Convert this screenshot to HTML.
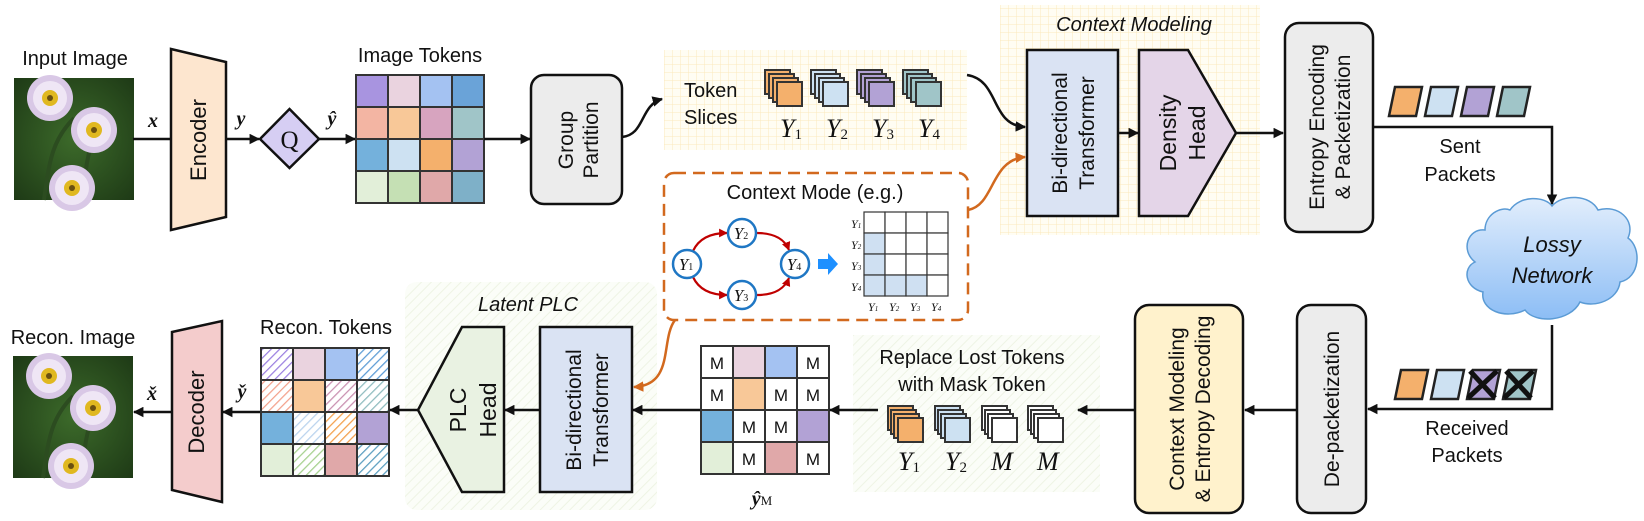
<!DOCTYPE html>
<html><head><meta charset="utf-8"><style>
html,body{margin:0;padding:0;background:#fff}
svg{display:block}
text{font-family:"Liberation Sans",sans-serif;fill:#111}
.s{font-family:"Liberation Serif",serif;font-style:italic}
</style></head><body>
<svg width="1644" height="521" viewBox="0 0 1644 521" xmlns="http://www.w3.org/2000/svg">
<defs>
<marker id="ah" viewBox="0 0 10 10" refX="9" refY="5" markerWidth="4.2" markerHeight="4.2" orient="auto"><path d="M0,0 L10,5 L0,10 z" fill="#111"/></marker>
<marker id="ao" viewBox="0 0 10 10" refX="9" refY="5" markerWidth="4.2" markerHeight="4.2" orient="auto"><path d="M0,0 L10,5 L0,10 z" fill="#d2691e"/></marker>
<marker id="ar" viewBox="0 0 10 10" refX="9" refY="5" markerWidth="4" markerHeight="4" orient="auto"><path d="M0,0 L10,5 L0,10 z" fill="#c00000"/></marker>
<pattern id="yg" width="8" height="8" patternUnits="userSpaceOnUse"><rect width="8" height="8" fill="#fffdf3"/><path d="M0,0H8M0,0V8" stroke="#fbe9bd" stroke-width="1"/></pattern>
<pattern id="gh" width="7" height="7" patternUnits="userSpaceOnUse" patternTransform="rotate(45)"><rect width="7" height="7" fill="#fbfdf8"/><line x1="0" y1="0" x2="0" y2="7" stroke="#eef4e4" stroke-width="2"/></pattern>
<pattern id="h1" width="6" height="6" patternUnits="userSpaceOnUse" patternTransform="rotate(45)"><rect width="6" height="6" fill="#fff"/><line x1="0" y1="0" x2="0" y2="6" stroke="#9a7fe0" stroke-width="2.5"/></pattern>
<pattern id="h2" width="6" height="6" patternUnits="userSpaceOnUse" patternTransform="rotate(45)"><rect width="6" height="6" fill="#fff"/><line x1="0" y1="0" x2="0" y2="6" stroke="#5b9bd5" stroke-width="2.5"/></pattern>
<pattern id="h3" width="6" height="6" patternUnits="userSpaceOnUse" patternTransform="rotate(45)"><rect width="6" height="6" fill="#fff"/><line x1="0" y1="0" x2="0" y2="6" stroke="#f3a08a" stroke-width="2.5"/></pattern>
<pattern id="h4" width="6" height="6" patternUnits="userSpaceOnUse" patternTransform="rotate(45)"><rect width="6" height="6" fill="#fff"/><line x1="0" y1="0" x2="0" y2="6" stroke="#c990b0" stroke-width="2.5"/></pattern>
<pattern id="h5" width="6" height="6" patternUnits="userSpaceOnUse" patternTransform="rotate(45)"><rect width="6" height="6" fill="#fff"/><line x1="0" y1="0" x2="0" y2="6" stroke="#8fbcbf" stroke-width="2.5"/></pattern>
<pattern id="h6" width="6" height="6" patternUnits="userSpaceOnUse" patternTransform="rotate(45)"><rect width="6" height="6" fill="#fff"/><line x1="0" y1="0" x2="0" y2="6" stroke="#b9d3ee" stroke-width="2.5"/></pattern>
<pattern id="h7" width="6" height="6" patternUnits="userSpaceOnUse" patternTransform="rotate(45)"><rect width="6" height="6" fill="#fff"/><line x1="0" y1="0" x2="0" y2="6" stroke="#f4a04c" stroke-width="2.5"/></pattern>
<pattern id="h8" width="6" height="6" patternUnits="userSpaceOnUse" patternTransform="rotate(45)"><rect width="6" height="6" fill="#fff"/><line x1="0" y1="0" x2="0" y2="6" stroke="#a6d18e" stroke-width="2.5"/></pattern>
<pattern id="h9" width="6" height="6" patternUnits="userSpaceOnUse" patternTransform="rotate(45)"><rect width="6" height="6" fill="#fff"/><line x1="0" y1="0" x2="0" y2="6" stroke="#5a9ec0" stroke-width="2.5"/></pattern>
<linearGradient id="cl" x1="0" y1="0" x2="0" y2="1"><stop offset="0" stop-color="#e2eefc"/><stop offset="1" stop-color="#8cbdf5"/></linearGradient>
<radialGradient id="bg" cx="0.5" cy="0.5" r="0.7"><stop offset="0" stop-color="#3c6a2a"/><stop offset="1" stop-color="#1e3a16"/></radialGradient>
<g id="fl">
<circle r="23" fill="#d9c8e6"/><circle r="17" fill="#efe6f5"/><circle r="8" fill="#e0b820"/><circle r="3" fill="#6a5010"/>
</g>
<g id="photo">
<rect width="120" height="122" fill="url(#bg)"/>
<path d="M30,122 C35,80 40,60 60,40 M70,122 C70,90 75,75 80,55" stroke="#2c4c20" stroke-width="4" fill="none"/>
<use href="#fl" x="36" y="20"/>
<use href="#fl" x="80" y="52"/>
<use href="#fl" x="58" y="110"/>
</g>
</defs>

<!-- backgrounds -->
<rect x="664" y="50" width="303" height="100" fill="url(#yg)"/>
<rect x="1000" y="5" width="260" height="230" fill="url(#yg)"/>
<rect x="405" y="282" width="252" height="228" rx="12" fill="url(#gh)"/>
<rect x="853" y="335" width="247" height="157" fill="url(#gh)"/>

<!-- top row -->
<text x="75" y="65" font-size="20" text-anchor="middle">Input Image</text>
<use href="#photo" x="14" y="78"/>
<line x1="133" y1="139" x2="171" y2="139" stroke="#111" stroke-width="2.5"/>
<text x="153" y="127" font-size="20" class="s" font-weight="bold" text-anchor="middle">x</text>
<polygon points="171,49 226,62 226,217 171,230" fill="#fde6cf" stroke="#111" stroke-width="2.5"/>
<text transform="translate(206,140) rotate(-90)" font-size="22" text-anchor="middle">Encoder</text>
<line x1="226" y1="139" x2="259" y2="139" stroke="#111" stroke-width="2.5" marker-end="url(#ah)"/>
<text x="241" y="125" font-size="20" class="s" font-weight="bold" text-anchor="middle">y</text>
<polygon points="289.5,109 319,139 289.5,168 260,139" fill="#d6cef3" stroke="#111" stroke-width="2.5"/>
<text x="289.5" y="148" font-size="25" text-anchor="middle" style="font-family:'Liberation Serif',serif">Q</text>
<line x1="319" y1="139" x2="355" y2="139" stroke="#111" stroke-width="2.5" marker-end="url(#ah)"/>
<text x="332" y="125" font-size="20" class="s" font-weight="bold" text-anchor="middle">ŷ</text>
<text x="420" y="62" font-size="20" text-anchor="middle">Image Tokens</text>
<g stroke="#333" stroke-width="2">
<rect x="356" y="75" width="32" height="32" fill="#a894e0"/><rect x="388" y="75" width="32" height="32" fill="#ead3df"/><rect x="420" y="75" width="32" height="32" fill="#a4c2f2"/><rect x="452" y="75" width="32" height="32" fill="#6aa3d8"/>
<rect x="356" y="107" width="32" height="32" fill="#f3b5a3"/><rect x="388" y="107" width="32" height="32" fill="#f8c898"/><rect x="420" y="107" width="32" height="32" fill="#d7a4bf"/><rect x="452" y="107" width="32" height="32" fill="#a0c5c8"/>
<rect x="356" y="139" width="32" height="32" fill="#74b1dc"/><rect x="388" y="139" width="32" height="32" fill="#cde1f2"/><rect x="420" y="139" width="32" height="32" fill="#f4b06c"/><rect x="452" y="139" width="32" height="32" fill="#b2a2d5"/>
<rect x="356" y="171" width="32" height="32" fill="#e2efd9"/><rect x="388" y="171" width="32" height="32" fill="#c5e0b4"/><rect x="420" y="171" width="32" height="32" fill="#e0a8a9"/><rect x="452" y="171" width="32" height="32" fill="#7eb0c8"/>
</g>
<line x1="484" y1="139" x2="530" y2="139" stroke="#111" stroke-width="2.5" marker-end="url(#ah)"/>
<rect x="531" y="75" width="91" height="129" rx="13" fill="#ececec" stroke="#111" stroke-width="2.5"/>
<text transform="translate(577,140) rotate(-90)" font-size="21" text-anchor="middle"><tspan x="0" dy="-4">Group</tspan><tspan x="0" dy="25">Partition</tspan></text>
<path d="M622,137 C645,135 640,105 662,99" fill="none" stroke="#111" stroke-width="2.5" marker-end="url(#ah)"/>

<text x="684" y="97" font-size="20">Token</text>
<text x="684" y="124" font-size="20">Slices</text>
<g stroke="#333" stroke-width="2">
<g><rect x="765" y="70" width="25" height="24" fill="#f4b06c"/><rect x="769" y="74" width="25" height="24" fill="#f4b06c"/><rect x="773" y="78" width="25" height="24" fill="#f4b06c"/><rect x="777" y="82" width="25" height="24" fill="#f4b06c"/></g>
<g><rect x="811" y="70" width="25" height="24" fill="#cde1f2"/><rect x="815" y="74" width="25" height="24" fill="#cde1f2"/><rect x="819" y="78" width="25" height="24" fill="#cde1f2"/><rect x="823" y="82" width="25" height="24" fill="#cde1f2"/></g>
<g><rect x="857" y="70" width="25" height="24" fill="#b2a2d5"/><rect x="861" y="74" width="25" height="24" fill="#b2a2d5"/><rect x="865" y="78" width="25" height="24" fill="#b2a2d5"/><rect x="869" y="82" width="25" height="24" fill="#b2a2d5"/></g>
<g><rect x="903" y="70" width="25" height="24" fill="#a0c5c8"/><rect x="907" y="74" width="25" height="24" fill="#a0c5c8"/><rect x="911" y="78" width="25" height="24" fill="#a0c5c8"/><rect x="916" y="82" width="25" height="24" fill="#a0c5c8"/></g>
</g>
<g font-size="26" class="s">
<text x="780" y="137" class="s">Y<tspan font-size="15" font-style="normal" dy="2">1</tspan></text>
<text x="826" y="137" class="s">Y<tspan font-size="15" font-style="normal" dy="2">2</tspan></text>
<text x="872" y="137" class="s">Y<tspan font-size="15" font-style="normal" dy="2">3</tspan></text>
<text x="918" y="137" class="s">Y<tspan font-size="15" font-style="normal" dy="2">4</tspan></text>
</g>
<path d="M967,75 C1000,80 990,125 1025,127" fill="none" stroke="#111" stroke-width="2.5" marker-end="url(#ah)"/>

<text x="1134" y="31" font-size="20" font-style="italic" text-anchor="middle">Context Modeling</text>
<rect x="1027" y="50" width="91" height="166" fill="#dae3f3" stroke="#111" stroke-width="2.5"/>
<text transform="translate(1072,133) rotate(-90)" font-size="21" text-anchor="middle"><tspan x="0" dy="-5">Bi-directional</tspan><tspan x="0" dy="27">Transformer</tspan></text>
<line x1="1118" y1="133" x2="1138" y2="133" stroke="#111" stroke-width="2.5" marker-end="url(#ah)"/>
<polygon points="1139,50 1188,50 1236,133 1188,216 1139,216" fill="#e4d5e8" stroke="#111" stroke-width="2.5"/>
<text transform="translate(1182,133) rotate(-90)" font-size="23" text-anchor="middle"><tspan x="0" dy="-6">Density</tspan><tspan x="0" dy="29">Head</tspan></text>
<line x1="1236" y1="133" x2="1283" y2="133" stroke="#111" stroke-width="2.5" marker-end="url(#ah)"/>
<rect x="1285" y="23" width="88" height="209" rx="14" fill="#ececec" stroke="#111" stroke-width="2.5"/>
<text transform="translate(1329,127) rotate(-90)" font-size="21" text-anchor="middle"><tspan x="0" dy="-5">Entropy Encoding</tspan><tspan x="0" dy="26">&amp; Packetization</tspan></text>

<g stroke="#222" stroke-width="2.5">
<polygon points="1395,87 1422,87 1416,116 1389,116" fill="#f4b06c"/>
<polygon points="1431,87 1458,87 1452,116 1425,116" fill="#cde1f2"/>
<polygon points="1467,87 1494,87 1488,116 1461,116" fill="#b2a2d5"/>
<polygon points="1503,87 1530,87 1524,116 1497,116" fill="#a0c5c8"/>
</g>
<polyline points="1373,127 1552,127 1552,204" fill="none" stroke="#111" stroke-width="2.5" marker-end="url(#ah)"/>
<text x="1460" y="153" font-size="20" text-anchor="middle">Sent</text>
<text x="1460" y="181" font-size="20" text-anchor="middle">Packets</text>

<path d="M1510,210 C1520,195 1545,196 1552,206 C1562,194 1590,194 1598,210 C1618,204 1636,220 1628,238 C1642,248 1640,278 1620,282 C1618,300 1595,308 1580,302 C1570,322 1535,324 1525,310 C1505,320 1480,310 1483,292 C1465,288 1462,268 1475,262 C1460,250 1468,228 1485,230 C1485,215 1500,206 1510,210 Z" fill="url(#cl)" stroke="#5b9bd5" stroke-width="1.5"/>
<text x="1552" y="252" font-size="22" font-style="italic" text-anchor="middle">Lossy</text>
<text x="1552" y="283" font-size="22" font-style="italic" text-anchor="middle">Network</text>

<!-- context mode box -->
<rect x="664" y="173" width="304" height="147" rx="10" fill="#fff" stroke="#d2691e" stroke-width="2.5" stroke-dasharray="12,7"/>
<text x="815" y="199" font-size="20" text-anchor="middle">Context Mode (e.g.)</text>
<g fill="none" stroke="#c00000" stroke-width="2.2">
<path d="M693,251 C700,236 715,233 727,233" marker-end="url(#ar)"/>
<path d="M757,233 C775,233 785,240 789,250" marker-end="url(#ar)"/>
<path d="M693,277 C700,292 715,295 727,295" marker-end="url(#ar)"/>
<path d="M757,295 C775,295 785,288 789,278" marker-end="url(#ar)"/>
</g>
<g fill="#fff" stroke="#1f77c4" stroke-width="2.5">
<circle cx="687" cy="264" r="14"/><circle cx="742" cy="233" r="14"/><circle cx="742" cy="295" r="14"/><circle cx="795" cy="264" r="14"/>
</g>
<g font-size="17" class="s" text-anchor="middle">
<text x="686" y="270" class="s">Y<tspan font-size="10" font-style="normal">1</tspan></text>
<text x="741" y="239" class="s">Y<tspan font-size="10" font-style="normal">2</tspan></text>
<text x="741" y="301" class="s">Y<tspan font-size="10" font-style="normal">3</tspan></text>
<text x="794" y="270" class="s">Y<tspan font-size="10" font-style="normal">4</tspan></text>
</g>
<polygon points="818,259 828,259 828,253 838,264 828,275 828,269 818,269" fill="#1e90ff"/>
<g stroke="#333" stroke-width="1.2">
<rect x="864" y="212" width="21" height="21" fill="#fff"/><rect x="885" y="212" width="21" height="21" fill="#fff"/><rect x="906" y="212" width="21" height="21" fill="#fff"/><rect x="927" y="212" width="21" height="21" fill="#fff"/>
<rect x="864" y="233" width="21" height="21" fill="#cfe0f2"/><rect x="885" y="233" width="21" height="21" fill="#fff"/><rect x="906" y="233" width="21" height="21" fill="#fff"/><rect x="927" y="233" width="21" height="21" fill="#fff"/>
<rect x="864" y="254" width="21" height="21" fill="#cfe0f2"/><rect x="885" y="254" width="21" height="21" fill="#fff"/><rect x="906" y="254" width="21" height="21" fill="#fff"/><rect x="927" y="254" width="21" height="21" fill="#fff"/>
<rect x="864" y="275" width="21" height="21" fill="#cfe0f2"/><rect x="885" y="275" width="21" height="21" fill="#cfe0f2"/><rect x="906" y="275" width="21" height="21" fill="#cfe0f2"/><rect x="927" y="275" width="21" height="21" fill="#fff"/>
</g>
<g font-size="12" class="s" fill="#333">
<text x="851" y="228" class="s">Y<tspan font-size="7">1</tspan></text>
<text x="851" y="249" class="s">Y<tspan font-size="7">2</tspan></text>
<text x="851" y="270" class="s">Y<tspan font-size="7">3</tspan></text>
<text x="851" y="291" class="s">Y<tspan font-size="7">4</tspan></text>
<text x="868" y="311" class="s">Y<tspan font-size="7">1</tspan></text>
<text x="889" y="311" class="s">Y<tspan font-size="7">2</tspan></text>
<text x="910" y="311" class="s">Y<tspan font-size="7">3</tspan></text>
<text x="931" y="311" class="s">Y<tspan font-size="7">4</tspan></text>
</g>
<path d="M968,210 C995,205 990,160 1025,157" fill="none" stroke="#d2691e" stroke-width="2.5" marker-end="url(#ao)"/>
<path d="M675,320 C660,340 675,385 634,387" fill="none" stroke="#d2691e" stroke-width="2.5" marker-end="url(#ao)"/>

<!-- bottom row -->
<text x="73" y="344" font-size="20" text-anchor="middle">Recon. Image</text>
<use href="#photo" x="13" y="356"/>
<line x1="172" y1="412" x2="134" y2="412" stroke="#111" stroke-width="2.5" marker-end="url(#ah)"/>
<text x="152" y="400" font-size="20" class="s" font-weight="bold" text-anchor="middle">x̌</text>
<polygon points="172,332 222,321 222,502 172,490" fill="#f4cccc" stroke="#111" stroke-width="2.5"/>
<text transform="translate(204,412) rotate(-90)" font-size="22" text-anchor="middle">Decoder</text>
<line x1="261" y1="412" x2="223" y2="412" stroke="#111" stroke-width="2.5" marker-end="url(#ah)"/>
<text x="242" y="398" font-size="20" class="s" font-weight="bold" text-anchor="middle">y̌</text>
<text x="326" y="334" font-size="20" text-anchor="middle">Recon. Tokens</text>
<g stroke="#333" stroke-width="2">
<rect x="261" y="348" width="32" height="32" fill="url(#h1)"/><rect x="293" y="348" width="32" height="32" fill="#ead3df"/><rect x="325" y="348" width="32" height="32" fill="#a4c2f2"/><rect x="357" y="348" width="32" height="32" fill="url(#h2)"/>
<rect x="261" y="380" width="32" height="32" fill="url(#h3)"/><rect x="293" y="380" width="32" height="32" fill="#f8c898"/><rect x="325" y="380" width="32" height="32" fill="url(#h4)"/><rect x="357" y="380" width="32" height="32" fill="url(#h5)"/>
<rect x="261" y="412" width="32" height="32" fill="#74b1dc"/><rect x="293" y="412" width="32" height="32" fill="url(#h6)"/><rect x="325" y="412" width="32" height="32" fill="url(#h7)"/><rect x="357" y="412" width="32" height="32" fill="#b2a2d5"/>
<rect x="261" y="444" width="32" height="32" fill="#e2efd9"/><rect x="293" y="444" width="32" height="32" fill="url(#h8)"/><rect x="325" y="444" width="32" height="32" fill="#e0a8a9"/><rect x="357" y="444" width="32" height="32" fill="url(#h9)"/>
</g>
<line x1="418" y1="410" x2="390" y2="410" stroke="#111" stroke-width="2.5" marker-end="url(#ah)"/>
<text x="528" y="311" font-size="20" font-style="italic" text-anchor="middle">Latent PLC</text>
<polygon points="418,410 462,327 504,327 504,492 462,492" fill="#e9f2e2" stroke="#111" stroke-width="2.5"/>
<text transform="translate(472,410) rotate(-90)" font-size="23" text-anchor="middle"><tspan x="0" dy="-6">PLC</tspan><tspan x="0" dy="30">Head</tspan></text>
<line x1="540" y1="410" x2="505" y2="410" stroke="#111" stroke-width="2.5" marker-end="url(#ah)"/>
<rect x="540" y="327" width="92" height="165" fill="#dae3f3" stroke="#111" stroke-width="2.5"/>
<text transform="translate(586,410) rotate(-90)" font-size="21" text-anchor="middle"><tspan x="0" dy="-5">Bi-directional</tspan><tspan x="0" dy="27">Transformer</tspan></text>
<line x1="701" y1="410" x2="633" y2="410" stroke="#111" stroke-width="2.5" marker-end="url(#ah)"/>
<g stroke="#333" stroke-width="2">
<rect x="701" y="346" width="32" height="32" fill="#fff"/><rect x="733" y="346" width="32" height="32" fill="#ead3df"/><rect x="765" y="346" width="32" height="32" fill="#a4c2f2"/><rect x="797" y="346" width="32" height="32" fill="#fff"/>
<rect x="701" y="378" width="32" height="32" fill="#fff"/><rect x="733" y="378" width="32" height="32" fill="#f8c898"/><rect x="765" y="378" width="32" height="32" fill="#fff"/><rect x="797" y="378" width="32" height="32" fill="#fff"/>
<rect x="701" y="410" width="32" height="32" fill="#74b1dc"/><rect x="733" y="410" width="32" height="32" fill="#fff"/><rect x="765" y="410" width="32" height="32" fill="#fff"/><rect x="797" y="410" width="32" height="32" fill="#b2a2d5"/>
<rect x="701" y="442" width="32" height="32" fill="#e2efd9"/><rect x="733" y="442" width="32" height="32" fill="#fff"/><rect x="765" y="442" width="32" height="32" fill="#e0a8a9"/><rect x="797" y="442" width="32" height="32" fill="#fff"/>
</g>
<g font-size="17" text-anchor="middle">
<text x="717" y="369">M</text><text x="813" y="369">M</text>
<text x="717" y="401">M</text><text x="781" y="401">M</text><text x="813" y="401">M</text>
<text x="749" y="433">M</text><text x="781" y="433">M</text>
<text x="749" y="465">M</text><text x="813" y="465">M</text>
</g>
<text x="762" y="505" font-size="20" class="s" font-weight="bold" text-anchor="middle">ŷ<tspan font-size="13" font-style="normal" font-weight="normal">M</tspan></text>
<line x1="878" y1="410" x2="830" y2="410" stroke="#111" stroke-width="2.5" marker-end="url(#ah)"/>
<text x="972" y="364" font-size="20" text-anchor="middle">Replace Lost Tokens</text>
<text x="972" y="391" font-size="20" text-anchor="middle">with Mask Token</text>
<g stroke="#333" stroke-width="2">
<g><rect x="888" y="406" width="25" height="24" fill="#f4b06c"/><rect x="891" y="410" width="25" height="24" fill="#f4b06c"/><rect x="894" y="414" width="25" height="24" fill="#f4b06c"/><rect x="898" y="418" width="25" height="24" fill="#f4b06c"/></g>
<g><rect x="935" y="406" width="25" height="24" fill="#cde1f2"/><rect x="938" y="410" width="25" height="24" fill="#cde1f2"/><rect x="941" y="414" width="25" height="24" fill="#cde1f2"/><rect x="945" y="418" width="25" height="24" fill="#cde1f2"/></g>
<g><rect x="982" y="406" width="25" height="24" fill="#fff"/><rect x="985" y="410" width="25" height="24" fill="#fff"/><rect x="988" y="414" width="25" height="24" fill="#fff"/><rect x="992" y="418" width="25" height="24" fill="#fff"/></g>
<g><rect x="1028" y="406" width="25" height="24" fill="#fff"/><rect x="1031" y="410" width="25" height="24" fill="#fff"/><rect x="1034" y="414" width="25" height="24" fill="#fff"/><rect x="1038" y="418" width="25" height="24" fill="#fff"/></g>
</g>
<g font-size="26" class="s">
<text x="898" y="470" class="s">Y<tspan font-size="15" font-style="normal" dy="2">1</tspan></text>
<text x="945" y="470" class="s">Y<tspan font-size="15" font-style="normal" dy="2">2</tspan></text>
<text x="991" y="470" class="s">M</text>
<text x="1037" y="470" class="s">M</text>
</g>
<line x1="1135" y1="410" x2="1078" y2="410" stroke="#111" stroke-width="2.5" marker-end="url(#ah)"/>
<rect x="1135" y="305" width="108" height="208" rx="14" fill="#fff2cc" stroke="#111" stroke-width="2.5"/>
<text transform="translate(1189,409) rotate(-90)" font-size="21" text-anchor="middle"><tspan x="0" dy="-5">Context Modeling</tspan><tspan x="0" dy="26">&amp; Entropy Decoding</tspan></text>
<line x1="1297" y1="410" x2="1245" y2="410" stroke="#111" stroke-width="2.5" marker-end="url(#ah)"/>
<rect x="1297" y="305" width="69" height="208" rx="14" fill="#ececec" stroke="#111" stroke-width="2.5"/>
<text transform="translate(1339,409) rotate(-90)" font-size="21" text-anchor="middle">De-packetization</text>
<polyline points="1552,325 1552,409 1368,409" fill="none" stroke="#111" stroke-width="2.5" marker-end="url(#ah)"/>
<g stroke="#222" stroke-width="2.5">
<polygon points="1401,370 1428,370 1422,399 1395,399" fill="#f4b06c"/>
<polygon points="1437,370 1464,370 1458,399 1431,399" fill="#cde1f2"/>
<polygon points="1473,370 1500,370 1494,399 1467,399" fill="#b2a2d5"/>
<polygon points="1509,370 1536,370 1530,399 1503,399" fill="#a0c5c8"/>
</g>
<g stroke="#111" stroke-width="5">
<line x1="1470" y1="371" x2="1495" y2="398"/><line x1="1497" y1="371" x2="1468" y2="398"/>
<line x1="1506" y1="371" x2="1531" y2="398"/><line x1="1533" y1="371" x2="1504" y2="398"/>
</g>
<text x="1467" y="435" font-size="20" text-anchor="middle">Received</text>
<text x="1467" y="462" font-size="20" text-anchor="middle">Packets</text>
</svg>
</body></html>
